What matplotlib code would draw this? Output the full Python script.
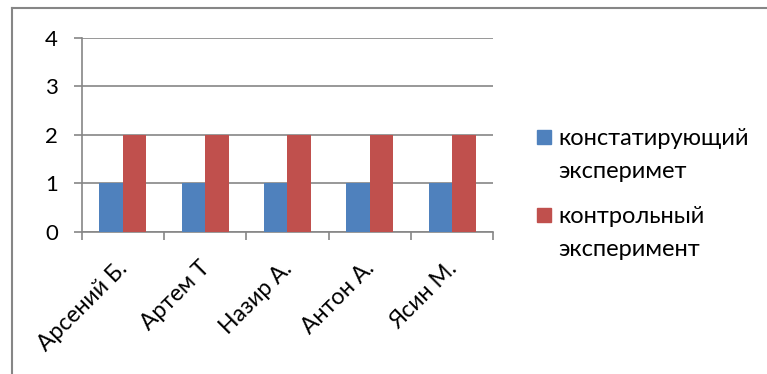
import matplotlib.pyplot as plt
import matplotlib.transforms as mtransforms
import numpy as np
from matplotlib.patches import Rectangle

plt.rcParams['font.family'] = ['Lato', 'DejaVu Sans']

names = ['Арсений Б.', 'Артем Т', 'Назир А.', 'Антон А.', 'Ясин М.']
series_labels = ['констатирующий\nэксперимет', 'контрольный\nэксперимент']
konst = [1, 1, 1, 1, 1]
kontr = [2, 2, 2, 2, 2]
colors = ['#4F81BD', '#C0504D']
yticks = [0, 1, 2, 3, 4]

fig = plt.figure(figsize=(7.67, 3.74), dpi=100)
ax = fig.add_axes([0.1063, 0.3797, 0.537, 0.5187])

x = np.arange(len(names))
w = 0.285
ax.bar(x - w / 2, konst, w, color=colors[0], zorder=3)
ax.bar(x + w / 2, kontr, w, color=colors[1], zorder=3)

ax.set_xlim(-0.5, len(names) - 0.5)
ax.set_ylim(0, 4)
ax.set_yticks(yticks)
ax.yaxis.grid(True, color='#868686', linewidth=1.2, zorder=0)

# category boundaries carry the tick marks, labels sit at the centres
ax.set_xticks(np.arange(len(names) + 1) - 0.5)
ax.set_xticklabels([])
ax.set_xticks(x, minor=True)
ax.set_xticklabels(names, minor=True, rotation=45, ha='right',
                   rotation_mode='anchor', fontsize=16.5)
ax.tick_params(axis='x', which='major', length=6, color='#868686', width=1.2)
ax.tick_params(axis='x', which='minor', length=0, pad=12)
ax.tick_params(axis='y', length=6, color='#868686', width=1.2, pad=11,
               labelsize=16)

# nudge the slanted names a little down and to the left
shift = mtransforms.ScaledTranslation(-0.06, -0.09, fig.dpi_scale_trans)
for lbl in ax.get_xticklabels(minor=True):
    lbl.set_transform(lbl.get_transform() + shift)

for s in ['top', 'right']:
    ax.spines[s].set_visible(False)
for s in ['left', 'bottom']:
    ax.spines[s].set_color('#868686')
    ax.spines[s].set_linewidth(1.2)

# legend drawn by hand: key square beside first line of each label
W, H = 767, 374
for i, (lab, c) in enumerate(zip(series_labels, colors)):
    base = 145 + i * 78
    fig.patches.append(Rectangle((537 / W, 1 - (base - 1) / H), 14 / W, 14 / H,
                                 transform=fig.transFigure, color=c))
    for j, line in enumerate(lab.split('\n')):
        fig.text(558 / W, 1 - (base + j * 33) / H, line, fontsize=17,
                 va='baseline', ha='left')

# outer frame of the chart area
fig.add_artist(plt.Line2D([12 / W, 12 / W], [0, 1 - 8 / H], color='#868686',
                          linewidth=1.5, transform=fig.transFigure))
fig.add_artist(plt.Line2D([12 / W, 1], [1 - 8 / H, 1 - 8 / H], color='#868686',
                          linewidth=1.5, transform=fig.transFigure))

fig.savefig('out.png', dpi=100)
